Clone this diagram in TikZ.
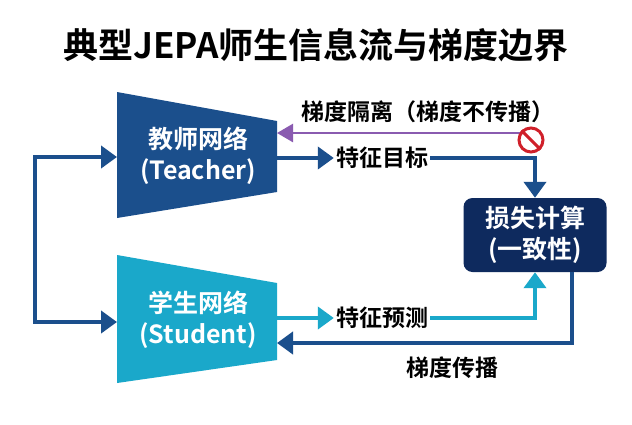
\documentclass[tikz,border=0pt]{standalone}
\usepackage{fontspec}
\setmainfont{Noto Sans CJK SC}[BoldFont={* Bold}]
\usetikzlibrary{arrows.meta}
\definecolor{teach}{HTML}{1B4F8C}
\definecolor{stud}{HTML}{1AA8CA}
\definecolor{navy}{HTML}{0E2A5E}
\definecolor{purp}{HTML}{8A5BB0}
\definecolor{nored}{HTML}{D0202A}
\begin{document}
\begin{tikzpicture}[x=1pt,y=-1pt,
  ar/.style={line width=4.5pt,-{Triangle[length=16pt,width=22pt]}},
  ln/.style={line width=4.5pt},
  lab/.style={font=\bfseries\fontsize{23}{26}\selectfont,text=black,inner sep=2pt},
  nt/.style={font=\bfseries\fontsize{25}{31}\selectfont,text=white,align=center}]
\useasboundingbox[fill=white] (0,0) rectangle (632,424);
\node[font=\bfseries\fontsize{35}{38}\selectfont] (title) at (316,45) {典型JEPA师生信息流与梯度边界};
% trapezoids
\fill[teach] (117,92) -- (277,121) -- (277,192) -- (117,218) -- cycle;
\fill[stud] (117,255) -- (277,283) -- (277,360) -- (117,383) -- cycle;
\node[nt] (T) at (198,156) {教师网络\\(Teacher)};
\node[nt] (S) at (198,320) {学生网络\\(Student)};
\coordinate (Tin) at (117,157); \coordinate (Sin) at (117,322);
\coordinate (Tout) at (277,158); \coordinate (Sout) at (277,318);
\coordinate (Tg) at (277,133); \coordinate (Sg) at (277,343);
\node[fill=navy,rounded corners=9pt,minimum width=143pt,minimum height=74pt,nt] (L) at (535,235) {损失计算\\(一致性)};
% left loop
\draw[ln,teach] (100,157) -- (35,157) -- (35,322) -- (100,322);
\draw[ar,teach] (98,157) -- (Tin);
\draw[ar,teach] (98,322) -- (Sin);
% teacher feature
\node[lab] (ft) at (382,158) {特征目标};
\draw[ar,teach] (Tout) -- (ft.west);
\draw[ar,teach] (ft.east) -- (535,158) -- (L.north);
% student feature
\node[lab] (fs) at (382,318) {特征预测};
\draw[ar,stud] (Sout) -- (fs.west);
\draw[ar,stud] (fs.east) -- (535,318) -- (L.south -| 535,0);
% gradient
\draw[ar,teach] (572,272) -- (572,343) -- (Sg);
\node[lab] (gp) at (452,368) {梯度传播};
% purple
\coordinate (pstart) at (520,133);
\draw[purp,line width=2.5pt,-{Triangle[length=16pt,width=18pt]}] (pstart) -- (Tg);
\node[lab] (gi) at (428,112) {梯度隔离（梯度不传播）};
\node[circle,draw=nored,line width=3pt,fill=white,minimum size=24pt,inner sep=0pt] (no) at (531,140) {};
\draw[nored,line width=3pt] (no.north west) -- (no.south east);
\end{tikzpicture}
\end{document}
